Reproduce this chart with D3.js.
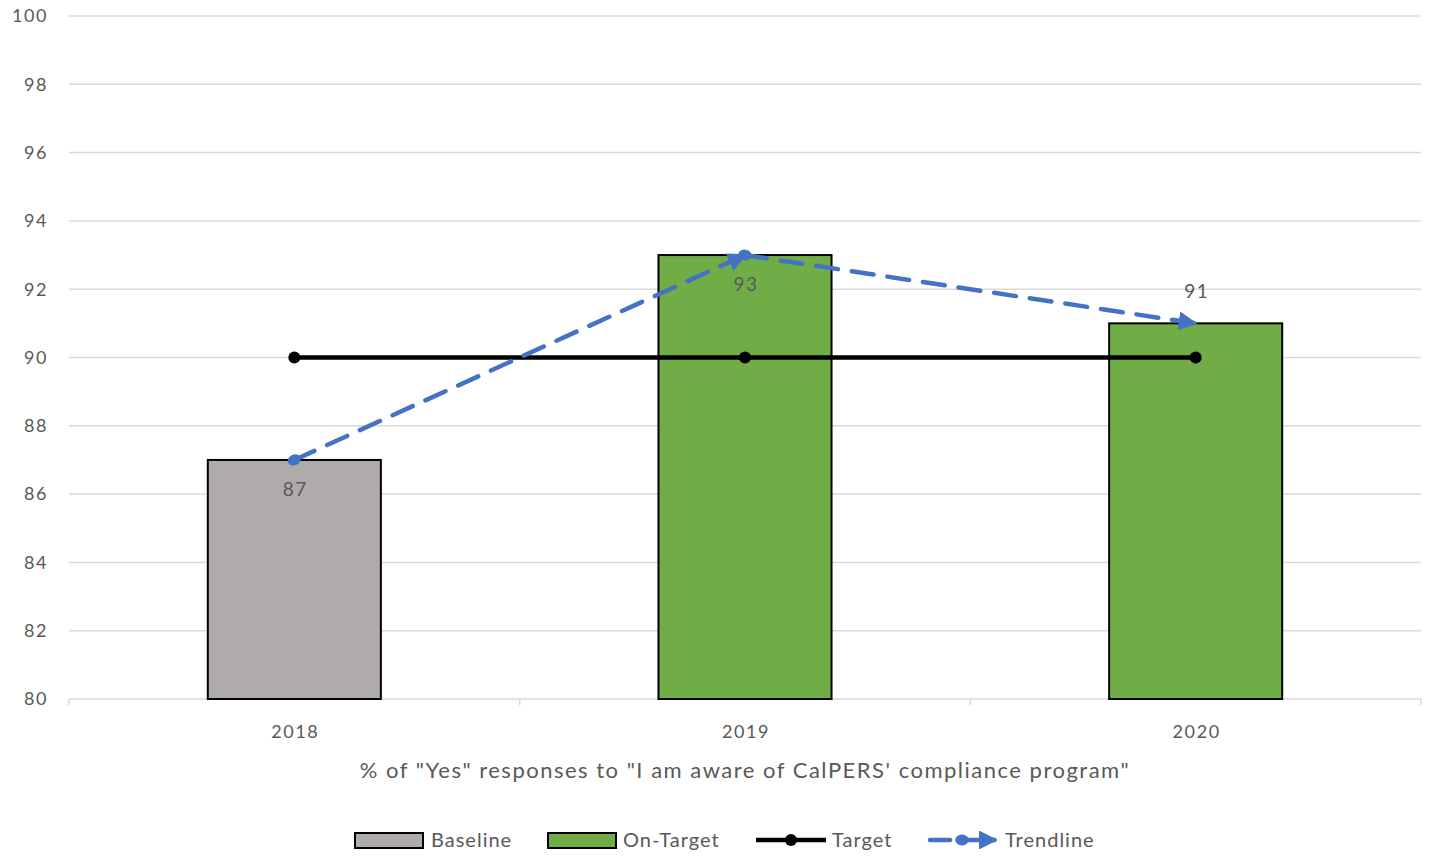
<!DOCTYPE html>
<html><head><meta charset="utf-8">
<script src="https://cdn.jsdelivr.net/npm/d3@7"></script>
<style>body{margin:0;background:#fff}svg{display:block}text{font-family:Lato,"Open Sans",sans-serif;fill:#595959}</style>
</head><body><svg id="c" width="1431" height="857"></svg>
<script>
const categories = ["2018","2019","2020"];
const barValues = [87, 93, 91];
const barSeries = ["Baseline","On-Target","On-Target"];
const targetValues = [90, 90, 90];
const trendValues = [87, 93, 91];
const labelPlacement = ["below","below","above"];
const yTicks = [80,82,84,86,88,90,92,94,96,98,100];
const axisTitle = "% of \"Yes\" responses to \"I am aware of CalPERS' compliance program\"";
const legendItems = ["Baseline","On-Target","Target","Trendline"];
const colors = {"Baseline":"#AFABAB","On-Target":"#70AD47","Target":"#000000","Trendline":"#4472C4"};

const svg = d3.select("#c");
const m = {l:69, r:10, t:16, b:158};
const W = 1431, H = 857;
const x = d3.scaleBand().domain(categories).range([m.l, W-m.r]).paddingInner(0).paddingOuter(0);
const y = d3.scaleLinear().domain([80,100]).range([H-m.b, m.t]);
const defs = svg.append("defs");
defs.append("marker").attr("id","arr").attr("viewBox","0 0 10 10").attr("refX",9).attr("refY",5)
  .attr("markerWidth",4.2).attr("markerHeight",4.2).attr("orient","auto").attr("markerUnits","strokeWidth")
  .append("path").attr("d","M0,0L10,5L0,10Z").attr("fill",colors.Trendline);
defs.append("marker").attr("id","ov").attr("viewBox","0 0 10 10").attr("refX",5).attr("refY",5)
  .attr("markerWidth",3).attr("markerHeight",3).attr("orient","auto").attr("markerUnits","strokeWidth")
  .append("ellipse").attr("cx",5).attr("cy",5).attr("rx",5).attr("ry",4).attr("fill",colors.Trendline);

// grid
svg.append("g").selectAll("line").data(yTicks.slice(1)).join("line")
  .attr("x1",m.l).attr("x2",W-m.r).attr("y1",d=>y(d)).attr("y2",d=>y(d))
  .attr("stroke","#D9D9D9").attr("stroke-width",1.5);
// y labels
svg.append("g").selectAll("text").data(yTicks).join("text")
  .attr("x",48).attr("y",d=>y(d)).attr("dy","0.35em").attr("text-anchor","end")
  .attr("font-size",18).attr("letter-spacing",1.6).text(d=>d);
// x axis
const xa = svg.append("g").attr("transform",`translate(0,${y(80)})`);
xa.append("line").attr("x1",m.l).attr("x2",W-m.r).attr("stroke","#D9D9D9").attr("stroke-width",1.5);
const bounds = categories.map(c=>x(c)).concat([W-m.r]);
xa.selectAll(".tk").data(bounds).join("line").attr("x1",d=>d).attr("x2",d=>d).attr("y1",0).attr("y2",6)
  .attr("stroke","#D9D9D9").attr("stroke-width",1.5);
xa.selectAll("text").data(categories).join("text").attr("x",d=>x(d)+x.bandwidth()/2+1).attr("y",39)
  .attr("text-anchor","middle").attr("font-size",18).attr("letter-spacing",1.6).text(d=>d);
svg.append("text").attr("x",(m.l+W-m.r)/2).attr("y",778).attr("text-anchor","middle").attr("font-size",22)
  .attr("letter-spacing",1.5).text(axisTitle);

// bars
const bw = x.bandwidth()*0.384;
svg.append("g").selectAll("rect").data(categories).join("rect")
  .attr("x",d=>x(d)+x.bandwidth()/2-bw/2).attr("width",bw)
  .attr("y",(d,i)=>y(barValues[i])).attr("height",(d,i)=>y(80)-y(barValues[i]))
  .attr("fill",(d,i)=>colors[barSeries[i]]).attr("stroke","#000").attr("stroke-width",2);

const cx = d=>x(d)+x.bandwidth()/2;
// target
svg.append("path").datum(categories).attr("d",d3.line().x(cx).y((d,i)=>y(targetValues[i])))
  .attr("fill","none").attr("stroke","#000").attr("stroke-width",4.5);
svg.append("g").selectAll("circle").data(categories).join("circle").attr("cx",cx).attr("cy",(d,i)=>y(targetValues[i]))
  .attr("r",6).attr("fill","#000");
// trendline segments
const seg = d3.range(trendValues.length-1);
svg.append("g").selectAll("path").data(seg).join("path")
  .attr("d",i=>`M${cx(categories[i])},${y(trendValues[i])}L${cx(categories[i+1])},${y(trendValues[i+1])}`)
  .attr("fill","none").attr("stroke",colors.Trendline).attr("stroke-width",4.5)
  .attr("stroke-dasharray","22,14").attr("stroke-linecap","round")
  .attr("marker-start","url(#ov)").attr("marker-end","url(#arr)");
// labels
svg.append("g").selectAll("text").data(categories).join("text")
  .attr("x",d=>cx(d)+1).attr("y",(d,i)=>y(trendValues[i]) + (labelPlacement[i]==="below"?29:-32))
  .attr("dy","0.35em").attr("text-anchor","middle").attr("font-size",19).attr("letter-spacing",1.5)
  .attr("fill","#404040").text((d,i)=>trendValues[i]);

// legend
const lg = svg.append("g");
const lx = [355, 548, 756, 930], tx = [431, 623, 832, 1005], ly = 840;
lg.append("rect").attr("x",lx[0]).attr("y",ly-7).attr("width",68).attr("height",15).attr("fill",colors.Baseline).attr("stroke","#000").attr("stroke-width",2);
lg.append("rect").attr("x",lx[1]).attr("y",ly-7).attr("width",68).attr("height",15).attr("fill",colors["On-Target"]).attr("stroke","#000").attr("stroke-width",2);
lg.append("line").attr("x1",lx[2]).attr("x2",lx[2]+70).attr("y1",ly).attr("y2",ly).attr("stroke","#000").attr("stroke-width",4.5);
lg.append("circle").attr("cx",lx[2]+35).attr("cy",ly).attr("r",6).attr("fill","#000");
lg.append("line").attr("x1",lx[3]).attr("x2",lx[3]+20).attr("y1",ly).attr("y2",ly).attr("stroke",colors.Trendline).attr("stroke-width",4.5).attr("stroke-linecap","round");
lg.append("line").attr("x1",lx[3]+32).attr("x2",lx[3]+66).attr("y1",ly).attr("y2",ly).attr("stroke",colors.Trendline).attr("stroke-width",4.5)
  .attr("marker-start","url(#ov)").attr("marker-end","url(#arr)");
lg.selectAll("text").data(legendItems).join("text").attr("x",(d,i)=>tx[i]).attr("y",ly).attr("dy","0.35em")
  .attr("font-size",20).attr("letter-spacing",1).text(d=>d);
</script></body></html>
